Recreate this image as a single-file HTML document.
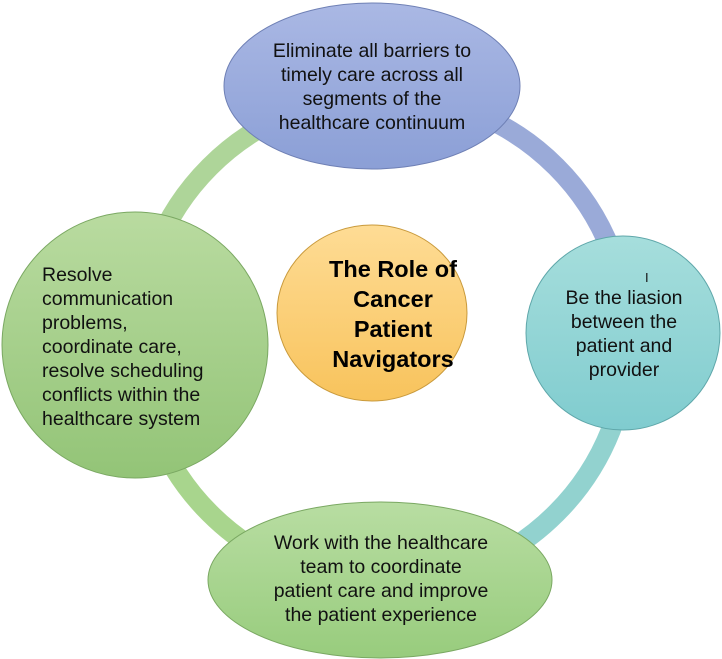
<!DOCTYPE html>
<html><head><style>
html,body{margin:0;padding:0;background:#fff;}
svg{display:block;}
text{font-family:"Liberation Sans",sans-serif;font-size:19.5px;fill:#111;}
</style></head><body>
<svg width="722" height="659" viewBox="0 0 722 659" xmlns="http://www.w3.org/2000/svg">
<defs>
<linearGradient id="gt" x1="0" y1="0" x2="0" y2="1"><stop offset="0" stop-color="#aab8e4"/><stop offset="1" stop-color="#8b9fd6"/></linearGradient>
<linearGradient id="gr" x1="0" y1="0" x2="0" y2="1"><stop offset="0" stop-color="#a6dedc"/><stop offset="1" stop-color="#80cccf"/></linearGradient>
<linearGradient id="gb" x1="0" y1="0" x2="0" y2="1"><stop offset="0" stop-color="#b8dda2"/><stop offset="1" stop-color="#98cc7d"/></linearGradient>
<linearGradient id="gl" x1="0" y1="0" x2="0" y2="1"><stop offset="0" stop-color="#b9dba0"/><stop offset="1" stop-color="#93c477"/></linearGradient>
<linearGradient id="gc" x1="0" y1="0" x2="0" y2="1"><stop offset="0" stop-color="#fedc95"/><stop offset="1" stop-color="#f8c35c"/></linearGradient>
</defs>
<g fill="none" stroke-width="20">
<path d="M383 95 A245 245 0 0 1 628 340" stroke="#9aaad8"/>
<path d="M628 340 A245 245 0 0 1 383 585" stroke="#92d2cf"/>
<path d="M383 585 A245 245 0 0 1 138 340" stroke="#a8d58d"/>
<path d="M138 340 A245 245 0 0 1 383 95" stroke="#aed599"/>
</g>
<ellipse cx="372" cy="86" rx="148" ry="83" fill="url(#gt)" stroke="#6f80b5" stroke-width="1"/>
<circle cx="623" cy="333" r="97" fill="url(#gr)" stroke="#5fa7aa" stroke-width="1"/>
<ellipse cx="380" cy="580" rx="172" ry="78" fill="url(#gb)" stroke="#7aa862" stroke-width="1"/>
<circle cx="135" cy="345" r="133" fill="url(#gl)" stroke="#7aa862" stroke-width="1"/>
<ellipse cx="372" cy="313" rx="95" ry="88" fill="url(#gc)" stroke="#c99a3c" stroke-width="1"/>
<g text-anchor="middle">
<text x="372" y="57">Eliminate all barriers to</text>
<text x="372" y="81">timely care across all</text>
<text x="372" y="105">segments of the</text>
<text x="372" y="129">healthcare continuum</text>
<text x="624" y="304">Be the liasion</text>
<text x="624" y="328">between the</text>
<text x="624" y="352">patient and</text>
<text x="624" y="376">provider</text>
<text x="381" y="549">Work with the healthcare</text>
<text x="381" y="573">team to coordinate</text>
<text x="381" y="597">patient care and improve</text>
<text x="381" y="621">the patient experience</text>
<text x="393" y="277" style="font-weight:bold;font-size:23.5px;fill:#000">The Role of</text>
<text x="393" y="307" style="font-weight:bold;font-size:23.5px;fill:#000">Cancer</text>
<text x="393" y="337" style="font-weight:bold;font-size:23.5px;fill:#000">Patient</text>
<text x="393" y="367" style="font-weight:bold;font-size:23.5px;fill:#000">Navigators</text>
</g>
<text x="42" y="281">Resolve</text>
<text x="42" y="305">communication</text>
<text x="42" y="329">problems,</text>
<text x="42" y="353">coordinate care,</text>
<text x="42" y="377">resolve scheduling</text>
<text x="42" y="401">conflicts within the</text>
<text x="42" y="425">healthcare system</text>
<text x="645" y="282" style="font-size:13px">I</text>
</svg>
</body></html>
